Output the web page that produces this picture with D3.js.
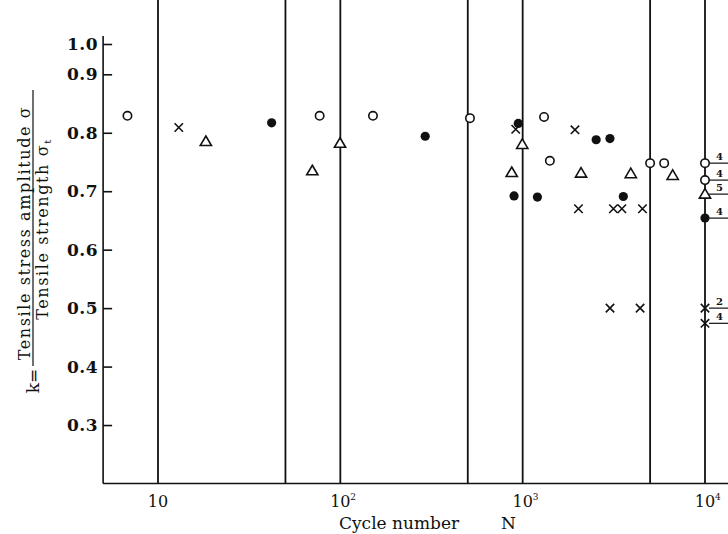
<!DOCTYPE html>
<html><head><meta charset="utf-8">
<script src="https://cdn.jsdelivr.net/npm/d3@7"></script>
<style>body{margin:0;background:#fff}svg{display:block}</style>
</head><body><svg id="c" width="728" height="534"></svg>
<script>
// ---- data ----
const openN   = [6.8, 77, 151, 514, 1310, 1410, 5000, 5970];
const openK   = [0.829, 0.829, 0.829, 0.825, 0.827, 0.752, 0.748, 0.748];
const filledN = [42, 292, 946, 2530, 3010, 897, 1205, 3565];
const filledK = [0.817, 0.794, 0.816, 0.788, 0.790, 0.692, 0.690, 0.691];
const crossN  = [13, 916, 1936, 2023, 3146, 3500, 4540, 3013, 4406];
const crossK  = [0.809, 0.806, 0.805, 0.670, 0.670, 0.670, 0.670, 0.500, 0.500];
const triN    = [18.3, 70.2, 99.6, 995, 871, 2090, 3917, 6650];
const triK    = [0.785, 0.735, 0.782, 0.780, 0.732, 0.731, 0.730, 0.727];
// run-outs (not failed at 10^4 cycles)
const runoutN     = [10000, 10000, 10000, 10000, 10000, 10000];
const runoutShape = ["open", "open", "tri", "filled", "cross", "cross"];
const runoutK     = [0.748, 0.719, 0.695, 0.654, 0.500, 0.474];
const runoutCount = ["4", "4", "5", "4", "2", "4"];
// axes
const gridN   = [10, 50, 100, 500, 1000, 5000, 10000];
const xLabelN = [10, 100, 1000, 10000];
const xLabelExp = ["", "2", "3", "4"];
const yTicks  = [0.3, 0.4, 0.5, 0.6, 0.7, 0.8, 0.9, 1.0];
const xMin = 5, kMin = 0.2;

// ---- drawing ----
const W = 728, H = 534;
const ink = "#111";
const serif = "'DejaVu Serif', 'Liberation Serif', serif";
const svg = d3.select("#c");
svg.append("rect").attr("width", W).attr("height", H).attr("fill", "#fff");

const x = d3.scaleLog().domain([10, 10000]).range([158, 705]);
const y = d3.scaleLinear().domain([0.2, 0.9, 1.0]).range([483.5, 74.3, 44]);

// vertical grid lines
svg.append("g").selectAll("line").data(gridN).join("line")
  .attr("x1", d => x(d)).attr("x2", d => x(d))
  .attr("y1", 0).attr("y2", y(kMin))
  .attr("stroke", ink).attr("stroke-width", 1.8);

// left axis
const gy = svg.append("g").attr("transform", `translate(${x(xMin)},0)`)
  .call(d3.axisLeft(y).tickValues(yTicks).tickSize(-9).tickPadding(5).tickFormat(d3.format(".1f")));
gy.select(".domain").remove();
gy.selectAll(".tick line").attr("stroke", ink).attr("stroke-width", 1.6);
gy.selectAll(".tick text").attr("fill", ink).style("font-family", serif)
  .style("font-size", "17px").style("font-weight", "bold").style("letter-spacing", "0.5px");
svg.append("line").attr("x1", x(xMin)).attr("x2", x(xMin)).attr("y1", 36).attr("y2", y(kMin))
  .attr("stroke", ink).attr("stroke-width", 1.6);

// bottom axis
const gx = svg.append("g").attr("transform", `translate(0,${y(kMin)})`)
  .call(d3.axisBottom(x).tickValues(xLabelN).tickSize(0).tickFormat(() => ""));
gx.select(".domain").remove();
svg.append("line").attr("x1", x(xMin)).attr("x2", W).attr("y1", y(kMin)).attr("y2", y(kMin))
  .attr("stroke", ink).attr("stroke-width", 1.6);
const xl = svg.append("g").selectAll("g").data(xLabelN).join("g")
  .attr("transform", d => `translate(${x(d)},${y(kMin) + 23.5})`);
xl.append("text").attr("text-anchor", "middle").attr("fill", ink)
  .style("font-family", serif).style("font-size", "16px")
  .text("10");
xl.append("text").attr("x", 10).attr("y", -7).attr("fill", ink)
  .style("font-family", serif).style("font-size", "9px")
  .text((d, i) => xLabelExp[i]);

// x axis title
svg.append("text").attr("x", 339).attr("y", 529).attr("fill", ink)
  .style("font-family", serif).style("font-size", "17px").text("Cycle number");
svg.append("text").attr("x", 501).attr("y", 529).attr("fill", ink)
  .style("font-family", serif).style("font-size", "17px").text("N");

// y axis title (k = numerator / denominator)
const lab = svg.append("g").style("font-family", serif).attr("fill", ink);
lab.append("text").attr("transform", "translate(30,233) rotate(-90)")
  .attr("text-anchor", "middle").style("font-size", "16px").style("letter-spacing", "1.6px")
  .text("Tensile stress amplitude σ");
const den = lab.append("text").attr("transform", "translate(48,229) rotate(-90)")
  .attr("text-anchor", "middle").style("font-size", "16px").style("letter-spacing", "1.6px");
den.append("tspan").text("Tensile strength σ");
den.append("tspan").attr("dy", 3).style("font-size", "10px").text("t");
lab.append("line").attr("x1", 33).attr("x2", 33).attr("y1", 90).attr("y2", 366)
  .attr("stroke", ink).attr("stroke-width", 1.2);
lab.append("text").attr("transform", "translate(39,381) rotate(-90)")
  .attr("text-anchor", "middle").style("font-size", "17px").text("k=");

// markers
function drawMarker(g, shape, cx, cy) {
  if (shape === "open") {
    g.append("circle").attr("cx", cx).attr("cy", cy).attr("r", 4.2)
      .attr("fill", "#fff").attr("stroke", ink).attr("stroke-width", 1.6);
  } else if (shape === "filled") {
    g.append("circle").attr("cx", cx).attr("cy", cy).attr("r", 4.6).attr("fill", ink);
  } else if (shape === "cross") {
    const s = 4.2;
    g.append("path").attr("d", `M${cx - s},${cy - s}L${cx + s},${cy + s}M${cx - s},${cy + s}L${cx + s},${cy - s}`)
      .attr("stroke", ink).attr("stroke-width", 1.6).attr("fill", "none");
  } else if (shape === "tri") {
    g.append("path").attr("d", `M${cx},${cy - 5.5}L${cx + 5.6},${cy + 4}L${cx - 5.6},${cy + 4}Z`)
      .attr("stroke", ink).attr("stroke-width", 1.6).attr("fill", "#fff").attr("stroke-linejoin", "miter");
  }
}
const gm = svg.append("g");
openN.forEach((n, i) => drawMarker(gm, "open", x(n), y(openK[i])));
filledN.forEach((n, i) => drawMarker(gm, "filled", x(n), y(filledK[i])));
crossN.forEach((n, i) => drawMarker(gm, "cross", x(n), y(crossK[i])));
triN.forEach((n, i) => drawMarker(gm, "tri", x(n), y(triK[i])));

// run-outs with arrows to the right and specimen counts
runoutN.forEach((n, i) => {
  const cx = x(n), cy = y(runoutK[i]);
  gm.append("line").attr("x1", cx + 4).attr("x2", W).attr("y1", cy).attr("y2", cy)
    .attr("stroke", ink).attr("stroke-width", 1.2);
  drawMarker(gm, runoutShape[i], cx, cy);
  gm.append("text").attr("x", 716).attr("y", cy - 3).attr("fill", ink)
    .style("font-family", serif).style("font-size", "10px").style("font-weight", "bold")
    .text(runoutCount[i]);
});
</script></body></html>
